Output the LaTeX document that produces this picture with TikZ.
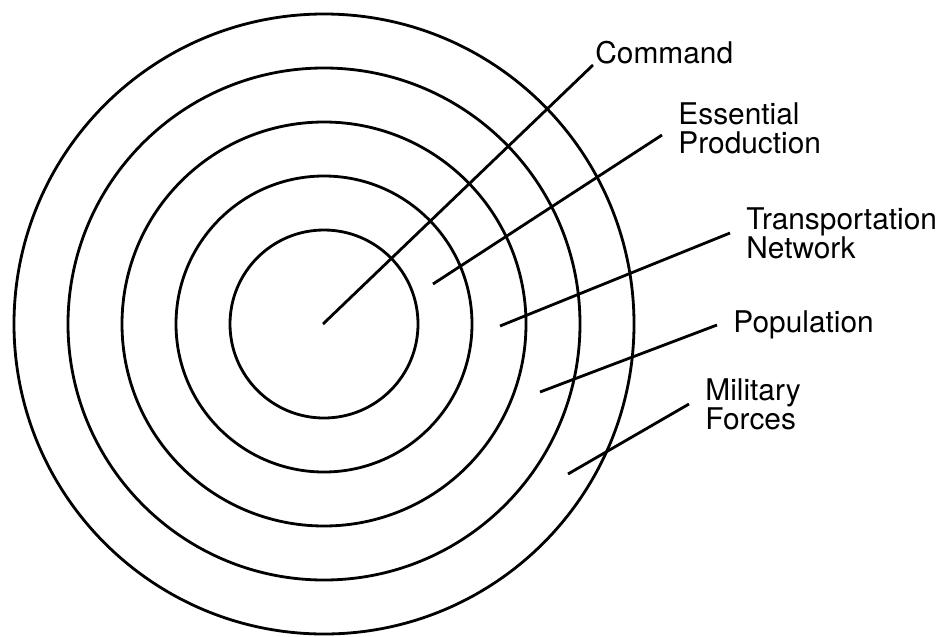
\documentclass[tikz,border=0pt]{standalone}
\usepackage{fontspec}
\setmainfont{TeX Gyre Heros}

\begin{document}
\begin{tikzpicture}[x=0.02cm, y=-0.02cm, line width=1.6pt,
  ring/.style={font=\fontsize{17}{16.5}\selectfont, align=left, inner xsep=0.3cm, inner ysep=0pt}]
	\useasboundingbox (0,0) rectangle (939,636);

	% Rings
	\coordinate (centre) at (324,324);
	\foreach \r in {94,148,202,256,310} {
		\draw (centre) circle [radius=\r*0.02cm];
	}

	% Ring labels
	\node[ring, anchor=south west, inner xsep=0.02cm] (cmd) at (593,65) {Command};
	\node[ring, anchor=west] (ess) at (662,128) {Essential\\Production};
	\node[ring, anchor=west] (trn) at (730,233) {Transportation\\Network};
	\node[ring, anchor=west] (pop) at (717,325) {Population};
	\node[ring, anchor=west] (mil) at (689,404) {Military\\Forces};

	% Leaders from inside each ring
	\coordinate (cmd-in) at (323,324);
	\coordinate (ess-in) at (433,284);
	\coordinate (trn-in) at (500,326);
	\coordinate (pop-in) at (540,392);
	\coordinate (mil-in) at (568,474);

	\draw (cmd-in) -- (cmd.south west);
	\draw (ess-in) -- ([yshift=-0.14cm]ess.west);
	\draw (trn-in) -- (trn.west);
	\draw (pop-in) -- (pop.west);
	\draw (mil-in) -- (mil.west);
\end{tikzpicture}
\end{document}
